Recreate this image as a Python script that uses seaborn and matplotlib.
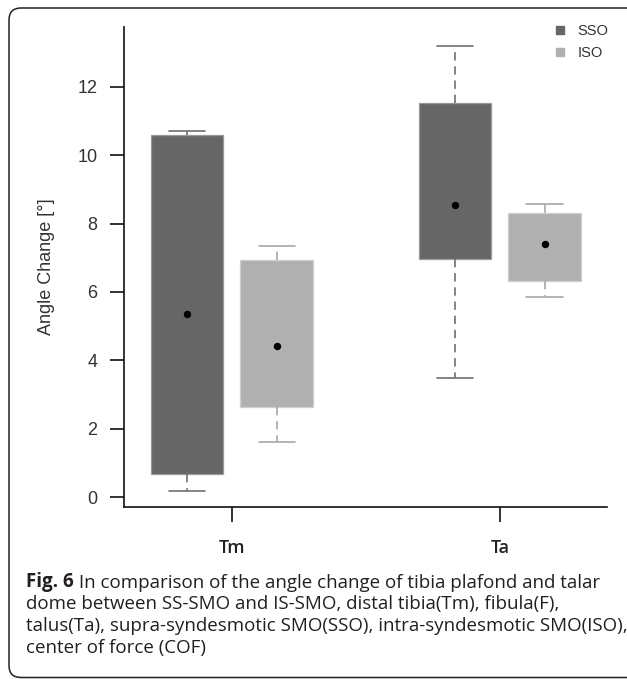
import numpy as np
import pandas as pd
import matplotlib
matplotlib.use("Agg")
import matplotlib.pyplot as plt
import seaborn as sns
from matplotlib.patches import FancyBboxPatch
from matplotlib.lines import Line2D

# ---------------- data ----------------
sites = ["Tm", "Ta", "Tm", "Ta"]
groups = ["SSO", "SSO", "ISO", "ISO"]
whisker_low = [0.18, 3.49, 1.60, 5.84]
q1 = [0.67, 6.97, 2.63, 6.32]
centre = [5.35, 8.54, 4.43, 7.40]
q3 = [10.59, 11.54, 6.94, 8.32]
whisker_high = [10.70, 13.18, 7.35, 8.57]

site_order = ["Tm", "Ta"]
group_order = ["SSO", "ISO"]
y_ticks = [0, 2, 4, 6, 8, 10, 12]
y_label = "Angle Change [°]"
caption_bold = "Fig. 6"
caption_lines = [
    " In comparison of the angle change of tibia plafond and talar",
    "dome between SS-SMO and IS-SMO, distal tibia(Tm), fibula(F),",
    "talus(Ta), supra-syndesmotic SMO(SSO), intra-syndesmotic SMO(ISO),",
    "center of force (COF)",
]

rows = []
for s, g, a, b, c, d, e in zip(sites, groups, whisker_low, q1, centre, q3, whisker_high):
    for v in (a, b, c, d, e):
        rows.append({"site": s, "group": g, "value": v})
long_df = pd.DataFrame(rows)
centre_df = pd.DataFrame({"site": sites, "group": groups, "value": centre})

# ---------------- styling ----------------
sns.set_style("ticks")
plt.rcParams["font.family"] = ["Liberation Sans", "DejaVu Sans"]

W, H = 627, 679
fig = plt.figure(figsize=(W / 100, H / 100), dpi=100)
fig.patch.set_facecolor("white")

ax_l, ax_r, ax_t, ax_b = 124, 607, 27, 507
ax = fig.add_axes([ax_l / W, 1 - ax_b / H, (ax_r - ax_l) / W, (ax_b - ax_t) / H])

face = {"SSO": "#666666", "ISO": "#b0b0b0"}
edge = {"SSO": "#9a9a9a", "ISO": "#cfcfcf"}
whisk = {"SSO": "#6f6f6f", "ISO": "#a8a8a8"}

for g in group_order:
    sub = long_df[long_df["group"] == g]
    sns.boxplot(
        data=sub, x="site", y="value", hue="group",
        order=site_order, hue_order=group_order, dodge=True,
        palette=face, saturation=1, width=0.667, gap=0.19,
        whis=(0, 100), showfliers=False, linecolor=edge[g], linewidth=0.9,
        whiskerprops=dict(color=whisk[g], linestyle=(0, (5, 3.5)), linewidth=1.2),
        capprops=dict(color=whisk[g], linewidth=1.2),
        medianprops=dict(visible=False),
        legend=False, ax=ax,
    )

sns.pointplot(
    data=centre_df, x="site", y="value", hue="group",
    order=site_order, hue_order=group_order,
    palette={"SSO": "black", "ISO": "black"}, dodge=0.3335,
    linestyle="none", markers="o", markersize=3.3, errorbar=None,
    legend=False, ax=ax,
)

ax.set_xlim(-0.403, 1.40)
ax.set_ylim(-0.29, 13.75)
ax.set_yticks(y_ticks)
ax.set_yticklabels([str(t) for t in y_ticks])
sns.despine(ax=ax)
for sp in ("left", "bottom"):
    ax.spines[sp].set_linewidth(1.2)
    ax.spines[sp].set_color("#111111")

ax.tick_params(axis="y", length=10, width=1.2, pad=9, labelsize=13,
               labelcolor="#333333", color="#111111")
ax.tick_params(axis="x", length=11, width=1.2, pad=12, color="#111111")
for lab in ax.get_xticklabels():
    lab.set_fontfamily("Open Sans")
    lab.set_fontweight("semibold")
    lab.set_fontsize(13)
    lab.set_color("#222222")

ax.set_xlabel("")
ax.set_ylabel(y_label, fontsize=13, color="#333333")
ax.yaxis.set_label_coords((55 - ax_l) / (ax_r - ax_l), 0.5)

handles = [Line2D([], [], marker="s", linestyle="none", markersize=5.5,
                  markerfacecolor=face[g], markeredgecolor=face[g]) for g in group_order]
ax.legend(handles, group_order, loc="upper left",
          bbox_to_anchor=(554 / W, 1 - 24 / H), bbox_transform=fig.transFigure,
          frameon=False, fontsize=10.5, handlelength=0.8, handletextpad=0.8,
          labelspacing=0.55, borderpad=0, borderaxespad=0, labelcolor="#333333")

# ---------------- caption ----------------
cap_kw = dict(family="Open Sans", fontsize=13.5, color="#231f20")
x0 = 26 / W
baselines = [587, 609, 631, 653]
t0 = fig.text(x0, 1 - baselines[0] / H, caption_bold, weight="bold", va="baseline", **cap_kw)
ax.annotate(caption_lines[0], xy=(1, 0), xycoords=t0, va="bottom", ha="left",
            annotation_clip=False, **cap_kw)
for line, b in zip(caption_lines[1:], baselines[1:]):
    fig.text(x0, 1 - b / H, line, va="baseline", **cap_kw)

# ---------------- rounded frame ----------------
frame = FancyBboxPatch((9 / 100, 1.5 / 100), (W + 30 - 9) / 100, (H - 8 - 1.5) / 100,
                       boxstyle="round,pad=0,rounding_size=0.12",
                       transform=fig.dpi_scale_trans, fill=False,
                       edgecolor="#222222", linewidth=1.1, clip_on=False)
fig.patches.append(frame)

fig.savefig("out.png", dpi=100, facecolor="white")
